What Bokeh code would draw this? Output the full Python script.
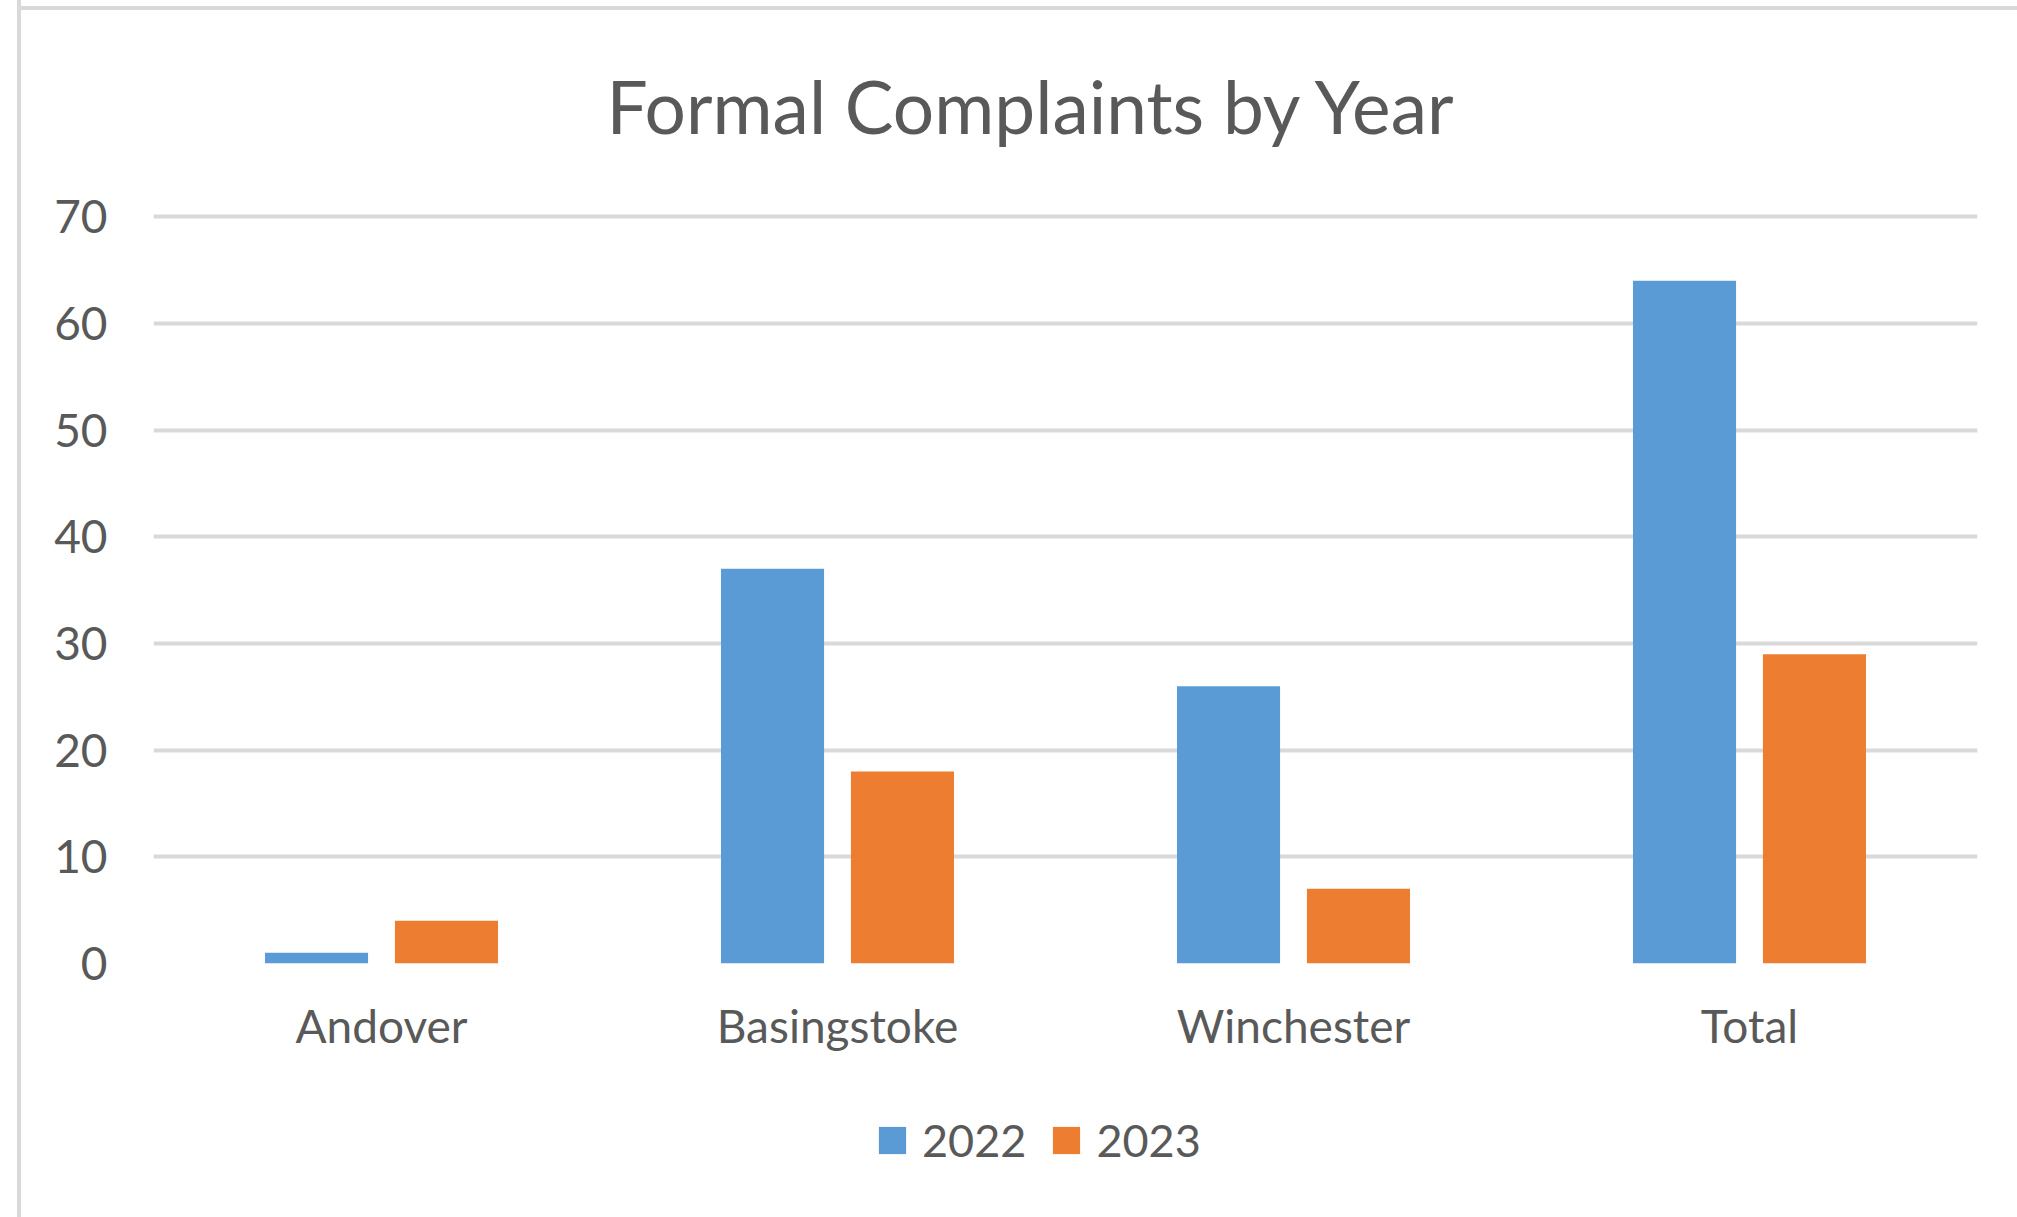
from bokeh.plotting import figure
from bokeh.layouts import column
from bokeh.models import (ColumnDataSource, FactorRange, Range1d, Legend, LegendItem,
                          Title, FixedTicker)
from bokeh.transform import dodge
from bokeh.embed import file_html
from bokeh.resources import INLINE

categories = ["Andover", "Basingstoke", "Winchester", "Total"]
series_names = ["2022", "2023"]
values_2022 = [1, 37, 26, 64]
values_2023 = [4, 18, 7, 29]
y_ticks = [0, 10, 20, 30, 40, 50, 60, 70]

BLUE = "#5B9BD5"
ORANGE = "#ED7D31"
GRID = "#D9D9D9"
TXT = "#595959"
FONT = "Lato"

src = ColumnDataSource(dict(cat=categories, v2022=values_2022, v2023=values_2023))

W = 2017
H1, H2 = 1080, 137
FRAME_L, FRAME_R, FRAME_T, FRAME_B = 153, 1977, 211, 963

line_v = f"linear-gradient({GRID}, {GRID}) 17px 0px / 4px 100% no-repeat"
line_h = f"linear-gradient({GRID}, {GRID}) 17px 6px / 100% 4px no-repeat"

p = figure(
    width=W, height=H1,
    x_range=FactorRange(*categories, range_padding=0),
    y_range=Range1d(0, 70.5),
    output_backend="svg", toolbar_location=None, tools="",
    min_border_left=FRAME_L, min_border_right=W - FRAME_R,
    min_border_top=FRAME_T, min_border_bottom=H1 - FRAME_B,
    styles={"background": f"{line_v}, {line_h}, white"},
)
p.outline_line_color = None
p.background_fill_color = "white"
p.border_fill_alpha = 0

r1 = p.vbar(x=dodge("cat", -0.1425, range=p.x_range), top="v2022", width=0.226,
            source=src, fill_color=BLUE, line_color=None)
r2 = p.vbar(x=dodge("cat", 0.1425, range=p.x_range), top="v2023", width=0.226,
            source=src, fill_color=ORANGE, line_color=None)

# Title
p.title = Title(text="Formal Complaints by Year", align="left", offset=453,
                vertical_align="top", standoff=119,
                text_font=FONT, text_font_size="73px", text_font_style="normal",
                text_color=TXT)

# Axes
p.yaxis.ticker = FixedTicker(ticks=y_ticks)
for ax in (p.xaxis[0], p.yaxis[0]):
    ax.axis_line_color = None
    ax.major_tick_line_color = None
    ax.minor_tick_line_color = None
    ax.major_tick_out = 0
    ax.major_tick_in = 0
    ax.major_label_text_font = FONT
    ax.major_label_text_font_size = "46px"
    ax.major_label_text_color = TXT
p.yaxis.major_label_standoff = 46
p.xaxis.major_label_standoff = 34

p.xgrid.grid_line_color = None
p.ygrid.grid_line_color = GRID
p.ygrid.grid_line_width = 4

# Legend strip below the chart
q = figure(width=W, height=H2, x_range=FactorRange(*categories), y_range=Range1d(0, 1),
           x_axis_type=None, y_axis_type=None,
           output_backend="svg", toolbar_location=None, tools="",
           min_border_left=0, min_border_right=0, min_border_top=0, min_border_bottom=0,
           styles={"background": f"{line_v}, white"})
q.outline_line_color = None
q.background_fill_alpha = 0
q.border_fill_alpha = 0
q.xgrid.visible = False
q.ygrid.visible = False
k1 = q.vbar(x="cat", top="v2022", width=0.2, source=src,
            fill_color=BLUE, line_color=None, visible=False)
k2 = q.vbar(x="cat", top="v2023", width=0.2, source=src,
            fill_color=ORANGE, line_color=None, visible=False)

legend = Legend(items=[LegendItem(label=series_names[0], renderers=[k1]),
                       LegendItem(label=series_names[1], renderers=[k2])],
                orientation="horizontal", location=(722, 50),
                glyph_width=34, glyph_height=34, label_standoff=13, spacing=23,
                padding=0, margin=0, border_line_color=None, background_fill_alpha=0,
                label_text_font=FONT, label_text_font_size="45px", label_text_color=TXT,
                label_text_baseline="middle", label_text_line_height=0.75, label_height=34)
q.add_layout(legend, "center")

layout = column(p, q, spacing=0)
open("out.html", "w").write(file_html(layout, INLINE))
